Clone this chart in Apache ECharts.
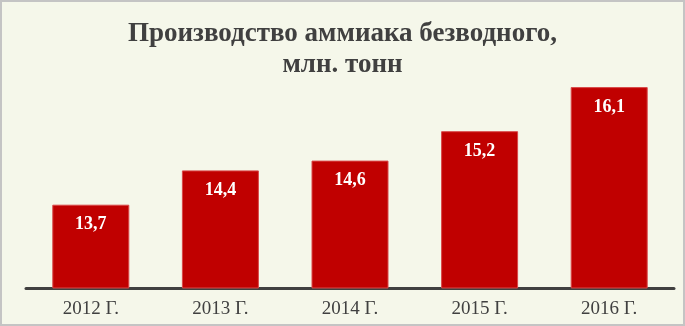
<!DOCTYPE html>
<html><head><meta charset="utf-8">
<script src="https://cdn.jsdelivr.net/npm/echarts@6/dist/echarts.min.js"></script>
<style>html,body{margin:0;padding:0;background:#f5f7ea;}#c{width:685px;height:326px;box-sizing:border-box;border:2px solid #c4c4c4;}</style>
</head><body><div id="c"></div>
<script>
const categories = ['2012 Г.', '2013 Г.', '2014 Г.', '2015 Г.', '2016 Г.'];
const values = [13.7, 14.4, 14.6, 15.2, 16.1];
const titleText = 'Производство аммиака безводного,\nмлн. тонн';

const chart = echarts.init(document.getElementById('c'), null, {renderer: 'canvas'});
chart.setOption({
  backgroundColor: '#f5f7ea',
  animation: false,
  title: {
    text: titleText,
    left: 'center',
    top: 12,
    textStyle: {fontFamily: 'Liberation Serif', fontSize: 27, fontWeight: 'bold', color: '#404040', lineHeight: 31}
  },
  grid: {left: 24, right: 9, top: 41, bottom: 36},
  xAxis: {
    type: 'category',
    data: categories,
    axisLine: {lineStyle: {color: '#404040', width: 3}},
    axisTick: {show: false},
    axisLabel: {fontFamily: 'Liberation Serif', fontSize: 19, color: '#404040', margin: 12}
  },
  yAxis: {
    type: 'value', min: 12, max: 17, show: false, splitLine: {show: false}
  },
  series: [{
    type: 'bar',
    data: values,
    barWidth: 77,
    itemStyle: {color: '#c00000', borderColor: '#d84848', borderWidth: 1},
    label: {
      show: true, position: 'insideTop', distance: 11,
      formatter: p => String(p.value).replace('.', ','),
      fontFamily: 'Liberation Serif', fontSize: 18, fontWeight: 'bold', color: '#ffffff'
    }
  }]
});
</script></body></html>
